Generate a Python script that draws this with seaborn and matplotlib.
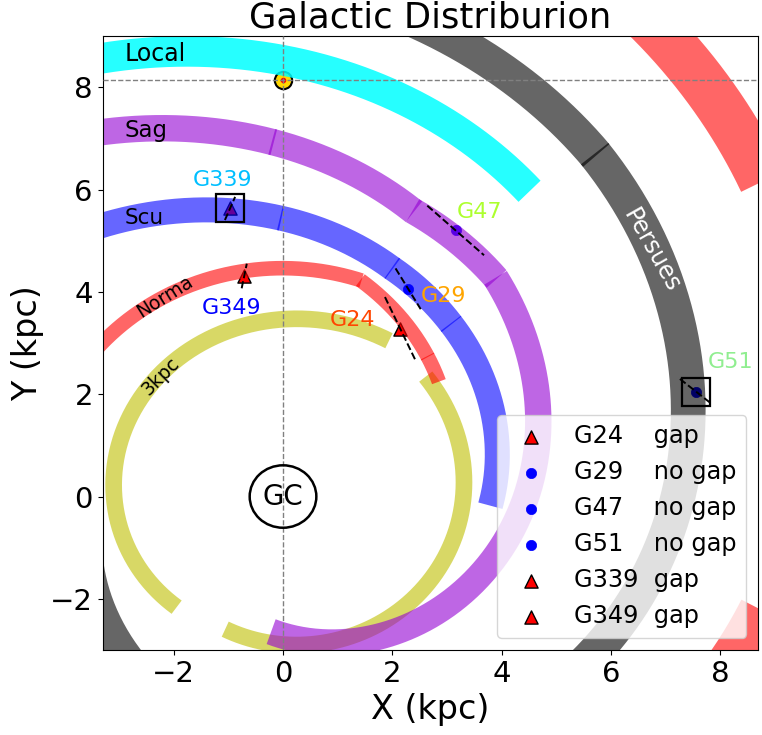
import numpy as np
import pandas as pd
import seaborn as sns
import matplotlib.pyplot as plt
from matplotlib.patches import Circle


## SOURCES (kpc)
src_name = ['G24', 'G29', 'G47', 'G51', 'G339', 'G349']
src_x = [2.15, 2.29, 3.16, 7.56, -0.97, -0.71]
src_y = [3.27, 4.06, 5.20, 2.05, 5.63, 4.31]
src_gap = ['gap', 'no gap', 'no gap', 'no gap', 'gap', 'gap']
src_pa = [-65.7, -60.0, -43.0, -40.0, 67.6, 79.0]      # dashed line angle (deg)
src_len = [1.38, 0.92, 1.42, 0.77, 0.49, 0.49]         # dashed line length (kpc)
src_boxed = ['G51', 'G339']
src_color = ['orangered', 'orange', 'greenyellow', 'lightgreen', 'deepskyblue', 'blue']

## SUN
sun_x, sun_y = 0.0, 8.15

## SPIRAL ARMS: azimuth (deg, from the Sun direction) and radius (kpc) at the ends of each piece
three_kpc_beta = [[-138.0, 32.5], [48.1, 202.2]]
three_kpc_r = [[2.91, 3.61], [3.51, 2.80]]
norma_beta = [[-55.0, 18.5], [18.5, 43.9], [43.9, 51.8]]
norma_r = [[4.47, 4.46], [4.46, 3.81], [3.81, 3.63]]
scu_beta = [[-40.0, -0.6], [-0.6, 24.0], [24.0, 42.2], [42.2, 92.7]]
scu_r = [[6.47, 5.445], [5.445, 4.89], [4.89, 4.57], [4.57, 3.80]]
sag_beta = [[-30.0, -1.7], [-1.7, 23.0], [23.0, 42.3], [42.3, 184.7]]
sag_r = [[8.07, 6.935], [6.935, 6.07], [6.07, 5.78], [5.78, 2.65]]
local_beta = [[-25.0, 37.1]]
local_r = [[9.31, 7.48]]
persues_beta = [[10.0, 40.4], [40.4, 251.0]]
persues_r = [[9.755, 8.80], [8.80, 3.82]]
outer_beta = [[25.0, 130.0]]
outer_r = [[11.89, 8.30]]


## STYLE
sns.set_style('ticks')
plt.rcParams['font.family'] = ['DejaVu Sans']
plt.rcParams['axes.edgecolor'] = 'black'
plt.rcParams['xtick.color'] = 'black'
plt.rcParams['ytick.color'] = 'black'
plt.rcParams['text.color'] = 'black'
plt.rcParams['axes.labelcolor'] = 'black'


def spiral(b0, b1, r0, r1, extend=0.0):
    # logarithmic spiral piece between two (beta, R) ends
    b = np.linspace(b0, b1 + extend, 300)
    r = r0 * (r1 / r0) ** ((b - b0) / (b1 - b0))
    return r * np.sin(np.radians(b)), r * np.cos(np.radians(b))


fig = plt.figure(figsize=(7.62, 7.35), dpi=100)
ax = fig.add_axes([0.1348, 0.1156, 0.8604, 0.8354])

arms = [(three_kpc_beta, three_kpc_r, 'y', 0.6, 12),
        (norma_beta, norma_r, 'red', 0.6, 10.5),
        (scu_beta, scu_r, 'blue', 0.6, 18),
        (sag_beta, sag_r, 'darkviolet', 0.6, 19),
        (local_beta, local_r, 'cyan', 0.85, 22),
        (persues_beta, persues_r, 'black', 0.6, 25),
        (outer_beta, outer_r, 'red', 0.6, 35)]

for betas, rs, col, alp, lw in arms:
    for i, (bb, rr) in enumerate(zip(betas, rs)):
        ext = 0.3 if i < len(betas) - 1 and betas[i + 1][0] == bb[1] else 0.0
        xx, yy = spiral(bb[0], bb[1], rr[0], rr[1], ext)
        sns.lineplot(x=xx, y=yy, sort=False, estimator=None, color=col,
                     alpha=alp, lw=lw, solid_capstyle='butt', ax=ax, zorder=2)

## SOURCES
df = pd.DataFrame({'name': src_name, 'x': src_x, 'y': src_y, 'gap': src_gap})
for _, row in df.iterrows():
    pad = '    ' if len(row['name']) == 3 else '  '
    if row['gap'] == 'gap':
        sns.scatterplot(x=[row['x']], y=[row['y']], marker='^', s=90, color='red',
                        edgecolor='black', linewidth=1, ax=ax, zorder=1,
                        label=row['name'] + pad + row['gap'])
    else:
        sns.scatterplot(x=[row['x']], y=[row['y']], marker='o', s=55, color='blue',
                        edgecolor='blue', linewidth=0.5, ax=ax, zorder=1,
                        label=row['name'] + pad + row['gap'])

for xs, ys, pa, ln in zip(src_x, src_y, src_pa, src_len):
    dx = 0.5 * ln * np.cos(np.radians(pa))
    dy = 0.5 * ln * np.sin(np.radians(pa))
    ax.plot([xs - dx, xs + dx], [ys - dy, ys + dy], ls='--', color='black',
            lw=1.4, zorder=3)

for nm, xs, ys in zip(src_name, src_x, src_y):
    if nm in src_boxed:
        ax.plot(xs, ys, marker='s', ms=20, mfc='none', mec='black', mew=1.6, zorder=4)

label_off = [(-0.87, 0.18), (0.64, -0.14), (0.44, 0.36), (0.63, 0.57),
             (-0.13, 0.56), (-0.24, -0.62)]
for nm, xs, ys, c, off in zip(src_name, src_x, src_y, src_color, label_off):
    ax.text(xs + off[0], ys + off[1], nm, color=c, fontsize=16,
            ha='center', va='center', zorder=5)

## SUN AND GC
ax.axhline(sun_y, ls='--', color='gray', lw=1, zorder=3)
ax.axvline(sun_x, ls='--', color='gray', lw=1, zorder=3)
ax.plot(sun_x, sun_y, marker='o', ms=12.5, mfc='gold', mec='black', mew=1.5, zorder=1)
ax.plot(sun_x, sun_y, marker='o', ms=3, mfc='red', mec='red', zorder=1.5)

ax.add_patch(Circle((0, 0), 0.61, fill=False, ec='black', lw=1.8, zorder=5))
ax.text(0, 0, 'GC', fontsize=20, ha='center', va='center', zorder=5)

## ARM LABELS
ax.text(-2.34, 8.64, 'Local', fontsize=17, ha='center', va='center', zorder=5)
ax.text(-2.50, 7.15, 'Sag', fontsize=16.5, ha='center', va='center', zorder=5)
ax.text(-2.55, 5.44, 'Scu', fontsize=15.5, ha='center', va='center', zorder=5)
ax.text(-2.16, 3.91, 'Norma', fontsize=13.5, rotation=32, ha='center', va='center', zorder=5)
ax.text(-2.23, 2.34, '3kpc', fontsize=13.5, rotation=45, ha='center', va='center', zorder=5)
ax.text(6.75, 4.80, 'Persues', fontsize=17, rotation=-60.5, color='white',
        ha='center', va='center', zorder=5)

## AXES
ax.set_xlim(-3.3, 8.7)
ax.set_ylim(-3, 9)
ax.set_xticks([-2, 0, 2, 4, 6, 8])
ax.set_yticks([-2, 0, 2, 4, 6, 8])
ax.tick_params(labelsize=21)
ax.set_xlabel('X (kpc)', fontsize=24)
ax.set_ylabel('Y (kpc)', fontsize=24)
ax.set_title('Galactic Distriburion', fontsize=25.5)

ax.legend(loc='lower right', fontsize=17.3)

fig.savefig('out.png', dpi=100)
